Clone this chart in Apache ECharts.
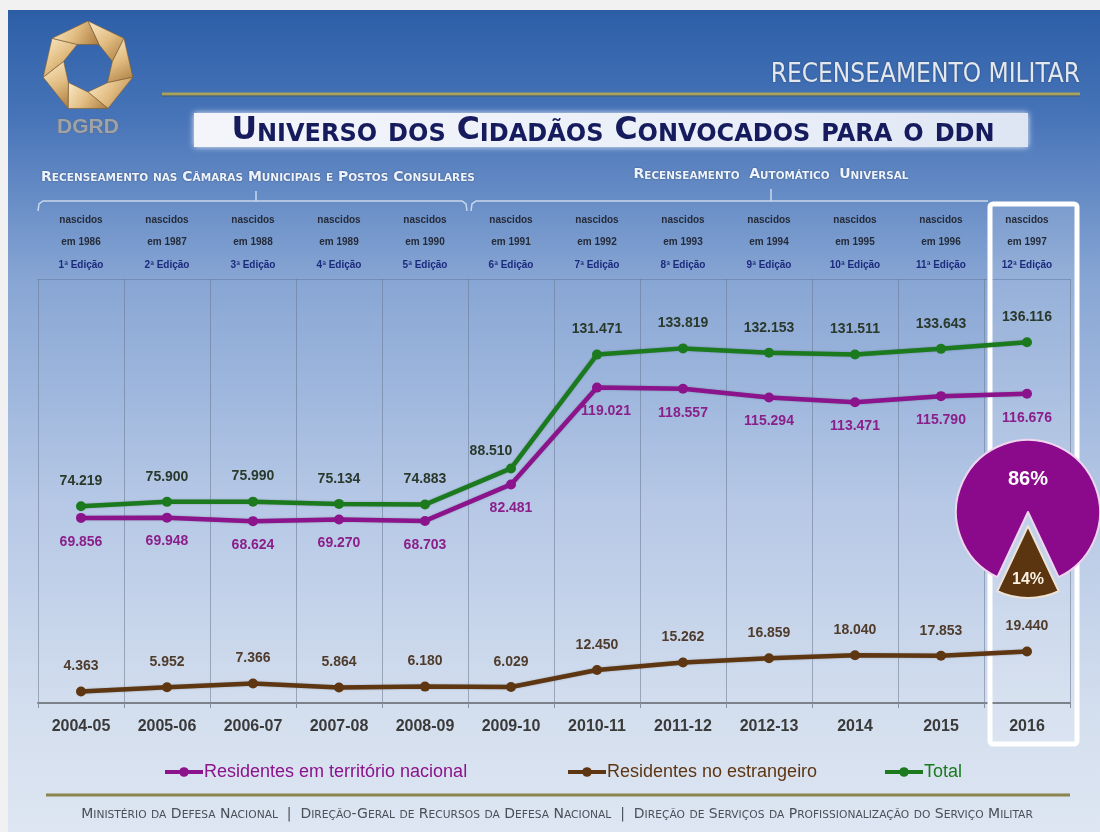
<!DOCTYPE html>
<html>
<head>
<meta charset="utf-8">
<script src="https://cdn.jsdelivr.net/npm/echarts@6/dist/echarts.min.js"></script>
<style>
  html, body { margin: 0; padding: 0; background: #f1f1f1; }
  #chart { width: 1100px; height: 832px; }
</style>
</head>
<body>
<div id="chart"></div>
<script>
// Recruitment years (bottom axis)
const seasons = ['2004-05', '2005-06', '2006-07', '2007-08', '2008-09', '2009-10',
                 '2010-11', '2011-12', '2012-13', '2014', '2015', '2016'];
// Birth year of each cohort and census edition (top header)
const birthYears = ['1986', '1987', '1988', '1989', '1990', '1991',
                    '1992', '1993', '1994', '1995', '1996', '1997'];
const editions = ['1ª Edição', '2ª Edição', '3ª Edição', '4ª Edição', '5ª Edição', '6ª Edição',
                  '7ª Edição', '8ª Edição', '9ª Edição', '10ª Edição', '11ª Edição', '12ª Edição'];
// Citizens summoned
const residentsNational = [69856, 69948, 68624, 69270, 68703, 82481, 119021, 118557, 115294, 113471, 115790, 116676];
const residentsAbroad   = [4363, 5952, 7366, 5864, 6180, 6029, 12450, 15262, 16859, 18040, 17853, 19440];
const totalCitizens     = [74219, 75900, 75990, 75134, 74883, 88510, 131471, 133819, 132153, 131511, 133643, 136116];
// 2016 split (percent)
const shareNational = 86;
const shareAbroad = 14;

const CONDENSED = "'DejaVu Sans Condensed', 'Liberation Sans', sans-serif";
const SANS = "'Liberation Sans', Arial, sans-serif";
const WIDE = "'DejaVu Sans', Verdana, sans-serif";

const C_NAT = '#8b138b';
const C_ABR = '#5e3611';
const C_TOT = '#1b7a1e';

// 74219 -> "74.219"
function thousands(v) {
  const s = String(Math.round(v));
  return s.replace(/\B(?=(\d{3})+(?!\d))/g, '.');
}

// Builds a rich-text string that renders lowercase letters as smaller capitals
function smallCaps(str) {
  let out = '', cur = null, buf = '';
  for (const ch of str) {
    const kind = (ch !== ch.toUpperCase()) ? 's' : 'b';
    if (kind !== cur) {
      if (buf) out += '{' + cur + '|' + buf + '}';
      buf = ''; cur = kind;
    }
    buf += ch.toUpperCase();
  }
  if (buf) out += '{' + cur + '|' + buf + '}';
  return out;
}

function capsRich(big, small, fill, family, weight, shadow) {
  const base = { fill: fill, fontFamily: family, fontWeight: weight, verticalAlign: 'bottom' };
  if (shadow) { base.textShadowColor = shadow; base.textShadowBlur = 2; }
  return {
    b: Object.assign({}, base, { fontSize: big }),
    s: Object.assign({}, base, { fontSize: small })
  };
}

// Logo: twisted golden heptagon ribbon
function logoElements(cx, cy, R, r) {
  const els = [];
  const n = 7, twist = 26 * Math.PI / 180;
  const pt = (rad, a) => [cx + rad * Math.cos(a), cy + rad * Math.sin(a)];
  for (let i = 0; i < n; i++) {
    const a0 = -Math.PI / 2 + i * 2 * Math.PI / n;
    const a1 = -Math.PI / 2 + (i + 1) * 2 * Math.PI / n;
    els.push({
      type: 'polygon',
      shape: { points: [pt(R, a0), pt(R, a1), pt(r, a1 + twist), pt(r, a0 + twist)] },
      style: {
        fill: { type: 'linear', x: 0, y: 0, x2: 1, y2: 1, colorStops: [
          { offset: 0, color: '#fbebc8' }, { offset: 0.5, color: '#e2bd82' }, { offset: 1, color: '#a97a3e' }] },
        stroke: '#7d5a2c', lineWidth: 0.6
      },
      z: 2
    });
  }
  return els;
}

const chart = echarts.init(document.getElementById('chart'));

const graphics = [
  // slide background
  { type: 'rect', shape: { x: 8, y: 10, width: 1092, height: 822 }, z: -10,
    style: { fill: { type: 'linear', x: 0, y: 0, x2: 0, y2: 1, colorStops: [
      { offset: 0, color: '#2c5ea7' }, { offset: 0.13, color: '#4774b8' },
      { offset: 0.33, color: '#88a6d4' }, { offset: 0.6, color: '#b6c8e6' },
      { offset: 0.85, color: '#d3deee' }, { offset: 1, color: '#dde6f2' }] } } },
  // header rule
  { type: 'line', shape: { x1: 162, y1: 94, x2: 1080, y2: 94 }, style: { stroke: '#a9a15c', lineWidth: 3 }, z: 1 },
  { type: 'line', shape: { x1: 162, y1: 96, x2: 1080, y2: 96 }, style: { stroke: 'rgba(70,70,40,0.5)', lineWidth: 1 }, z: 1 },
  { type: 'text', x: 1080, y: 75, z: 2,
    style: { text: 'RECENSEAMENTO MILITAR', align: 'right', verticalAlign: 'middle',
      fill: '#e3e8ef', fontSize: 26, fontFamily: CONDENSED, textShadowColor: 'rgba(0,0,0,0.35)', textShadowBlur: 2 } },
  // title plate
  { type: 'rect', shape: { x: 194, y: 113, width: 834, height: 34 }, z: 1,
    style: { fill: { type: 'linear', x: 0, y: 0, x2: 1, y2: 0, colorStops: [
      { offset: 0, color: '#f3f5fa' }, { offset: 0.7, color: '#e9eef8' }, { offset: 1, color: '#dde5f3' }] },
      shadowBlur: 6, shadowColor: 'rgba(255,255,255,0.9)' } },
  { type: 'text', x: 613, y: 131, z: 2,
    style: { text: smallCaps('Universo dos Cidadãos Convocados para o ddn'), align: 'center', verticalAlign: 'middle',
      rich: capsRich(31.5, 24, '#151b5c', WIDE, 'bold') } },
  // section headings
  { type: 'text', x: 258, y: 177, z: 2,
    style: { text: smallCaps('Recenseamento nas Câmaras Municipais e Postos Consulares'), align: 'center', verticalAlign: 'middle',
      rich: capsRich(14, 10.5, '#eef3fa', WIDE, 'bold', 'rgba(20,40,80,0.6)') } },
  { type: 'text', x: 771, y: 174, z: 2,
    style: { text: smallCaps('Recenseamento  Automático  Universal'), align: 'center', verticalAlign: 'middle',
      rich: capsRich(14, 10.4, '#eef3fa', WIDE, 'bold', 'rgba(20,40,80,0.6)') } },
  // braces
  { type: 'polyline', shape: { points: [[38, 211], [39, 204], [43, 201], [462, 201], [466, 204], [467, 211]] },
    style: { stroke: '#c9d8ec', lineWidth: 1.5, fill: null }, z: 1 },
  { type: 'line', shape: { x1: 256, y1: 201, x2: 256, y2: 191 }, style: { stroke: '#c9d8ec', lineWidth: 1.5 }, z: 1 },
  { type: 'polyline', shape: { points: [[471, 211], [472, 204], [476, 201], [988, 201]] },
    style: { stroke: '#c9d8ec', lineWidth: 1.5, fill: null }, z: 1 },
  { type: 'line', shape: { x1: 771, y1: 201, x2: 771, y2: 189 }, style: { stroke: '#c9d8ec', lineWidth: 1.5 }, z: 1 },
  // highlighted 2016 column: soft fill below the chart, white frame above it
  { type: 'rect', shape: { x: 990, y: 204, width: 87, height: 540, r: 3 }, z: -5,
    style: { fill: 'rgba(255,255,255,0.12)' } },
  { type: 'rect', shape: { x: 990, y: 204, width: 87, height: 540, r: 3 }, z: 3,
    style: { fill: null, stroke: '#ffffff', lineWidth: 5 } },
  // footer
  { type: 'line', shape: { x1: 46, y1: 795, x2: 1070, y2: 795 }, style: { stroke: '#8a8450', lineWidth: 3 }, z: 1 },
  { type: 'text', x: 557, y: 814, z: 2,
    style: { text: smallCaps('Ministério da Defesa Nacional  |  Direção-Geral de Recursos da Defesa Nacional  |  Direção de Serviços da Profissionalização do Serviço Militar'),
      align: 'center', verticalAlign: 'middle', rich: capsRich(14, 10.7, '#4b5059', WIDE, 'normal') } },
  // logo caption
  { type: 'text', x: 88, y: 127, z: 2,
    style: { text: 'DGRD', align: 'center', verticalAlign: 'middle', fontSize: 21, fontWeight: 'bold',
      fontFamily: SANS, fill: '#9ea3a8', stroke: '#5d6168', lineWidth: 0.6 } }
].concat(logoElements(88, 67, 46, 25));

const labelFont = { fontFamily: SANS, fontWeight: 'bold', fontSize: 14 };
const legendText = { fontSize: 18, fontFamily: SANS, padding: [0, 0, 0, -4] };

// a few labels are nudged sideways so they clear the neighbouring line
const nationalLabelShift = { 6: [9, 0] };
const totalLabelShift = { 5: [-20, 8] };
const withShift = (values, shifts) =>
  values.map((v, i) => shifts[i] ? { value: v, label: { offset: shifts[i] } } : v);

const option = {
  animation: false,
  backgroundColor: '#f1f1f1',
  graphic: { elements: graphics },
  grid: { left: 38, right: 30, top: 279, bottom: 129, containLabel: false },
  xAxis: [
    {
      type: 'category', data: seasons, boundaryGap: true, position: 'bottom',
      axisLine: { show: true, lineStyle: { color: '#7c828c', width: 2 } },
      axisTick: { show: true, length: 5, lineStyle: { color: '#8a909a' } },
      axisLabel: { interval: 0, margin: 16, color: '#3a3a3a', fontSize: 16, fontWeight: 'bold', fontFamily: SANS },
      splitLine: { show: true, interval: 0, lineStyle: { color: 'rgba(105,120,145,0.55)', width: 1 } }
    },
    {
      type: 'category', data: seasons, boundaryGap: true, position: 'top',
      axisLine: { show: true, lineStyle: { color: 'rgba(90,110,150,0.45)', width: 1 } },
      axisTick: { show: false },
      splitLine: { show: false },
      axisLabel: {
        interval: 0, margin: 2,
        formatter: (v, i) => '{n|nascidos}\n{y|em ' + birthYears[i] + '}\n{e|' + editions[i] + '}',
        rich: {
          n: { fontSize: 10, fontWeight: 'bold', color: '#252b38', lineHeight: 22, fontFamily: SANS },
          y: { fontSize: 10, fontWeight: 'bold', color: '#252b38', lineHeight: 22, fontFamily: SANS },
          e: { fontSize: 10, fontWeight: 'bold', color: '#1b2a7c', lineHeight: 24, fontFamily: SANS }
        }
      }
    }
  ],
  yAxis: { type: 'value', min: 0, max: 160000, show: false, splitLine: { show: false } },
  legend: [
    { data: ['Residentes em território nacional'], left: 158, top: 758, itemWidth: 38, itemHeight: 12,
      lineStyle: { width: 4 }, textStyle: Object.assign({ color: C_NAT }, legendText) },
    { data: ['Residentes no estrangeiro'], left: 561, top: 758, itemWidth: 38, itemHeight: 12,
      lineStyle: { width: 4 }, textStyle: Object.assign({ color: C_ABR }, legendText) },
    { data: ['Total'], left: 878, top: 758, itemWidth: 38, itemHeight: 12,
      lineStyle: { width: 4 }, textStyle: Object.assign({ color: C_TOT }, legendText) }
  ],
  series: [
    {
      name: 'Residentes em território nacional', type: 'line',
      data: withShift(residentsNational, nationalLabelShift),
      symbol: 'circle', symbolSize: 10, z: 4,
      itemStyle: { color: C_NAT },
      lineStyle: { color: C_NAT, width: 4.5, shadowColor: 'rgba(0,0,0,0.25)', shadowBlur: 2 },
      label: Object.assign({ show: true, position: 'bottom', distance: 12, color: '#8a1f8a',
        formatter: p => thousands(p.value) }, labelFont)
    },
    {
      name: 'Residentes no estrangeiro', type: 'line', data: residentsAbroad,
      symbol: 'circle', symbolSize: 10, z: 4,
      itemStyle: { color: C_ABR },
      lineStyle: { color: C_ABR, width: 4.5, shadowColor: 'rgba(0,0,0,0.25)', shadowBlur: 2 },
      label: Object.assign({ show: true, position: 'top', distance: 13, color: '#4f3c2c',
        formatter: p => thousands(p.value) }, labelFont)
    },
    {
      name: 'Total', type: 'line',
      data: withShift(totalCitizens, totalLabelShift),
      symbol: 'circle', symbolSize: 10, z: 4,
      itemStyle: { color: C_TOT },
      lineStyle: { color: C_TOT, width: 4.5, shadowColor: 'rgba(0,0,0,0.25)', shadowBlur: 2 },
      label: Object.assign({ show: true, position: 'top', distance: 13, color: '#2a392c',
        formatter: p => thousands(p.value) }, labelFont)
    },
    {
      type: 'pie', center: [1028, 512], radius: 72, startAngle: 244.8, clockwise: true,
      selectedMode: 'single', selectedOffset: 14, silent: true, z: 6,
      labelLine: { show: false },
      emphasis: { disabled: true },
      label: { show: true, position: 'inside' },
      data: [
        { value: shareNational, name: 'nacional',
          itemStyle: { color: '#8b0a8b', borderColor: '#efd6ef', borderWidth: 2 },
          label: {
            formatter: p => '{g|}\n{t|' + p.value + '%}',
            rich: {
              g: { lineHeight: 12 },
              t: { fontSize: 20, lineHeight: 20, color: '#ffffff', fontWeight: 'bold', fontFamily: SANS }
            }
          } },
        { value: shareAbroad, name: 'estrangeiro', selected: true,
          itemStyle: { color: '#5b3410', borderColor: '#efe3d6', borderWidth: 2 },
          label: {
            formatter: p => '{g|}\n{t|' + p.value + '%}',
            rich: {
              g: { lineHeight: 30 },
              t: { fontSize: 16, lineHeight: 16, color: '#fbf1e2', fontWeight: 'bold', fontFamily: SANS }
            }
          } }
      ]
    }
  ]
};

chart.setOption(option);
</script>
</body>
</html>
